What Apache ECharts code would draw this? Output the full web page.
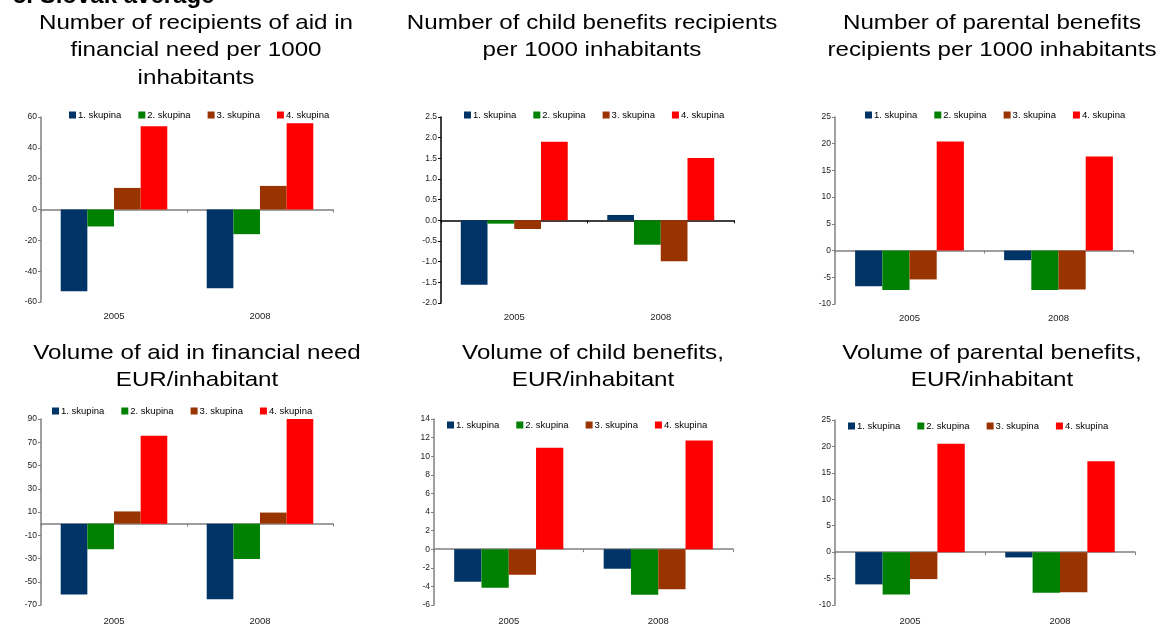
<!DOCTYPE html>
<html>
<head>
<meta charset="utf-8">
<script src="https://cdn.jsdelivr.net/npm/echarts@6/dist/echarts.min.js"></script>
<style>
  html, body { margin: 0; padding: 0; background: #fff; }
  #main { width: 1157px; height: 626px; }
</style>
</head>
<body>
<div id="main"></div>
<script>
// categories and groups
const years = ['2005', '2008'];
const groups = ['1. skupina', '2. skupina', '3. skupina', '4. skupina'];
const groupColors = ['#003366', '#008000', '#993300', '#FF0000'];

// values per group, [2005, 2008]
const aidRecipients = [[-53, -51], [-11, -16], [14, 15.3], [54, 56]];
const childRecipients = [[-1.56, 0.13], [-0.08, -0.59], [-0.21, -0.99], [1.9, 1.51]];
const parentalRecipients = [[-6.7, -1.8], [-7.4, -7.4], [-5.4, -7.3], [20.4, 17.6]];
const aidVolume = [[-61, -65], [-22, -30.5], [10.5, 9.5], [75.5, 90]];
const childVolume = [[-3.5, -2.1], [-4.15, -4.9], [-2.75, -4.3], [10.9, 11.7]];
const parentalVolume = [[-6.1, -1.0], [-8.0, -7.7], [-5.1, -7.6], [20.5, 17.2]];

const panels = [
  { title: 'Number of recipients of aid in\nfinancial need per 1000\ninhabitants', tx: 196, ty: 9,
    grid: [41, 117, 292, 185], min: -60, max: 60, interval: 20, values: aidRecipients,
    legend: [69, 110], lineColor: '#808080', dec: 0, labelMargin: 9 },
  { title: 'Number of child benefits recipients\nper 1000 inhabitants', tx: 592, ty: 9,
    grid: [441, 117, 293, 186], min: -2, max: 2.5, interval: 0.5, values: childRecipients,
    legend: [464, 110], lineColor: '#000000', dec: 1, labelMargin: 9 },
  { title: 'Number of parental benefits\nrecipients per 1000 inhabitants', tx: 992, ty: 9,
    grid: [835, 117, 298, 187], min: -10, max: 25, interval: 5, values: parentalRecipients,
    legend: [865, 110], lineColor: '#808080', dec: 0, labelMargin: 9 },
  { title: 'Volume of aid in financial need\nEUR/inhabitant', tx: 197, ty: 339,
    grid: [41, 419, 292, 187], min: -70, max: 90, interval: 20, values: aidVolume,
    legend: [52, 406], lineColor: '#808080', dec: 0, labelMargin: 11 },
  { title: 'Volume of child benefits,\nEUR/inhabitant', tx: 593, ty: 339,
    grid: [434, 419, 299, 186], min: -6, max: 14, interval: 2, values: childVolume,
    legend: [447, 420], lineColor: '#808080', dec: 0, labelMargin: 11 },
  { title: 'Volume of parental benefits,\nEUR/inhabitant', tx: 992, ty: 339,
    grid: [835, 420, 300, 189], min: -10, max: 25, interval: 5, values: parentalVolume,
    legend: [848, 421], lineColor: '#808080', dec: 0, labelMargin: 11 }
];

const font = 'Liberation Sans, Arial, sans-serif';
const option = {
  animation: false,
  backgroundColor: '#fff',
  grid: [], xAxis: [], yAxis: [], legend: [], series: [],
  graphic: [{
    type: 'text', x: 13, y: -16,
    style: { text: '5. Slovak average', font: 'bold 24px ' + font, fill: '#000' }
  }]
};

panels.forEach((p, i) => {
  // slide titles are a bit wider than plain Arial, so stretch them
  option.graphic.push({
    type: 'text', x: p.tx, y: p.ty, scaleX: 1.15,
    style: {
      text: p.title, font: '21px ' + font, fill: '#000',
      textAlign: 'center', textVerticalAlign: 'top', lineHeight: 27.5
    }
  });
  option.grid.push({ left: p.grid[0], top: p.grid[1], width: p.grid[2], height: p.grid[3] });
  // zero line with ticks
  option.xAxis.push({
    type: 'category', gridIndex: i, data: years,
    axisLine: { onZero: true, lineStyle: { color: p.lineColor, width: 1.5 } },
    axisTick: { show: true, length: 3, lineStyle: { color: p.lineColor } },
    axisLabel: { show: false }, splitLine: { show: false }
  });
  // year labels at bottom
  option.xAxis.push({
    type: 'category', gridIndex: i, data: years, position: 'bottom',
    axisLine: { show: false, onZero: false }, axisTick: { show: false },
    axisLabel: { fontFamily: font, fontSize: 9.5, color: '#222', margin: p.labelMargin }
  });
  option.yAxis.push({
    type: 'value', gridIndex: i, min: p.min, max: p.max, interval: p.interval,
    axisLine: { show: true, lineStyle: { color: p.lineColor, width: 1.5 } },
    axisTick: { show: true, length: 3, lineStyle: { color: p.lineColor } },
    splitLine: { show: false },
    axisLabel: {
      fontFamily: font, fontSize: 8.5, color: '#222', margin: 4,
      formatter: v => v.toFixed(p.dec)
    }
  });
  option.legend.push({
    data: groups, left: p.legend[0], top: p.legend[1], padding: 0,
    icon: 'rect', itemWidth: 7, itemHeight: 7, itemGap: 17,
    textStyle: { fontFamily: font, fontSize: 9.5, color: '#000', padding: [0, 0, 0, -3] }
  });
  groups.forEach((g, k) => {
    option.series.push({
      name: g, type: 'bar', xAxisIndex: 2 * i, yAxisIndex: i,
      data: p.values[k], barGap: '0%', barCategoryGap: '27%',
      itemStyle: { color: groupColors[k] }
    });
  });
});

const chart = echarts.init(document.getElementById('main'));
chart.setOption(option);
</script>
</body>
</html>
